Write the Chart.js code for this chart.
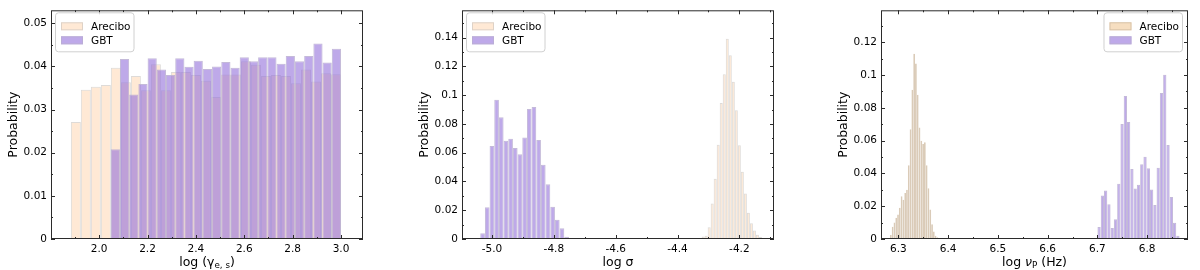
<!DOCTYPE html>
<html>
<head>
<meta charset="utf-8">
<script src="https://cdn.jsdelivr.net/npm/chart.js@4.4.1/dist/chart.umd.min.js"></script>
<style>
  html, body { margin: 0; padding: 0; background: #fff; }
  #figure { position: relative; width: 1200px; height: 270px; overflow: hidden; }
  #figure canvas { position: absolute; top: 0; }
</style>
</head>
<body>
<div id="figure">
  <canvas id="gamma-chart" width="364" height="270" style="left:1px"></canvas>
  <canvas id="sigma-chart" width="364" height="270" style="left:412px"></canvas>
  <canvas id="nu-chart" width="359" height="270" style="left:831px"></canvas>
</div>
<script>
/* data */
const SERIES_LABELS = ['Arecibo', 'GBT'];

// panel 1: log(gamma_e,s)
const GAMMA_ARECIBO_START = 1.883;
const GAMMA_ARECIBO_WIDTH = 0.04137;
const GAMMA_ARECIBO = [0.0271, 0.0346, 0.0353, 0.0357, 0.0397, 0.0363, 0.0378, 0.0345, 0.0405, 0.0345,
  0.0387, 0.0387, 0.0380, 0.0367, 0.0329, 0.0381, 0.0381, 0.0412, 0.0404, 0.0378,
  0.0380, 0.0378, 0.0361, 0.0393, 0.0365, 0.0384, 0.0382];
const GAMMA_GBT_START = 2.048;
const GAMMA_GBT_WIDTH = 0.03808;
const GAMMA_GBT = [0.0208, 0.0417, 0.0335, 0.0359, 0.0419, 0.0393, 0.0380, 0.0419, 0.0399, 0.0413,
  0.0394, 0.0400, 0.0410, 0.0397, 0.0421, 0.0412, 0.0421, 0.0421, 0.0406, 0.0424,
  0.0412, 0.0424, 0.0453, 0.0409, 0.0441];
const GAMMA_X_TICKS = [2.0, 2.2, 2.4, 2.6, 2.8, 3.0];
const GAMMA_Y_TICKS = [0, 0.01, 0.02, 0.03, 0.04, 0.05];

// panel 2: log(sigma)
const SIGMA_ARECIBO_START = -4.322;
const SIGMA_ARECIBO_WIDTH = 0.00975;
const SIGMA_ARECIBO = [0.0018, 0.0023, 0.0082, 0.0246, 0.0419, 0.0656, 0.0945, 0.1145, 0.1393, 0.1277,
  0.1093, 0.0895, 0.0651, 0.0467, 0.0316, 0.0182, 0.0109, 0.0059, 0.0030, 0.0014];
const SIGMA_GBT_START = -5.038;
const SIGMA_GBT_WIDTH = 0.0151;
const SIGMA_GBT = [0.0040, 0.0220, 0.0647, 0.0968, 0.0847, 0.0683, 0.0697, 0.0633, 0.0590, 0.0705,
  0.0903, 0.0918, 0.0688, 0.0516, 0.0380, 0.0225, 0.0134, 0.0075, 0.0015];
const SIGMA_X_TICKS = [-5.0, -4.8, -4.6, -4.4, -4.2];
const SIGMA_Y_TICKS = [0, 0.02, 0.04, 0.06, 0.08, 0.1, 0.12, 0.14];

// panel 3: log(nu_P)
const NU_ARECIBO_START = 6.283;
const NU_ARECIBO_WIDTH = 0.0036;
const NU_ARECIBO = [0.0025, 0.0075, 0.010, 0.013, 0.015, 0.019, 0.026, 0.024, 0.028, 0.030,
  0.045, 0.067, 0.091, 0.113, 0.107, 0.088, 0.068, 0.060, 0.058, 0.059,
  0.045, 0.031, 0.018, 0.009, 0.0045, 0.002, 0.001];
const NU_GBT_START = 6.700;
const NU_GBT_WIDTH = 0.0066;
const NU_GBT = [0.0073, 0.0266, 0.0296, 0.0212, 0.0067, 0.0121, 0.0337, 0.0702, 0.0873, 0.0714,
  0.0427, 0.0308, 0.0331, 0.0456, 0.0502, 0.0431, 0.0302, 0.0208, 0.0435, 0.0891,
  0.1002, 0.0573, 0.0256, 0.0099, 0.0020];
const NU_X_TICKS = [6.3, 6.4, 6.5, 6.6, 6.7, 6.8];
const NU_Y_TICKS = [0, 0.02, 0.04, 0.06, 0.08, 0.1, 0.12];

/* styles */
const FONT_FAMILY = '"DejaVu Sans", sans-serif';
const TEXT_COLOR = '#000000';
const AXIS_COLOR = '#2b2b2b';
const GBT_COLOR = 'rgba(147, 112, 219, 0.6)';
const GBT_EDGE = 'rgba(186, 174, 210, 0.85)';
const ARECIBO_COLOR = 'rgba(255, 218, 185, 0.6)';
const ARECIBO_EDGE = 'rgba(200, 195, 190, 0.6)';
const ARECIBO_COLOR_NU = 'rgba(240, 200, 150, 0.6)';
const ARECIBO_EDGE_NU = 'rgba(205, 185, 160, 0.75)';

/* utilities */
const toHistogramPoints = (start, width, values) => {
  return values.map((value, i) => ({ x: start + (i + 0.5) * width, y: value }));
};

const formatNumber = (value) => String(Number(value.toFixed(4)));

const minorValues = (ticks, min, max) => {
  const step = ticks[1] - ticks[0];
  const result = [];
  for (let v = ticks[0] - step / 2; v < max; v += step) {
    if (v > min) {
      result.push(v);
    }
  }
  return result;
};

/* plugins */
const axesFrame = {
  id: 'axesFrame',
  afterDatasetsDraw(chart) {
    const { ctx, chartArea, scales } = chart;
    const { left, right, top, bottom } = chartArea;
    ctx.save();
    ctx.strokeStyle = AXIS_COLOR;
    ctx.lineWidth = 1;

    const drawX = (value, length) => {
      const px = Math.round(scales.x.getPixelForValue(value)) + 0.5;
      ctx.beginPath();
      ctx.moveTo(px, bottom);
      ctx.lineTo(px, bottom - length);
      ctx.moveTo(px, top);
      ctx.lineTo(px, top + length);
      ctx.stroke();
    };
    const drawY = (value, length) => {
      const py = Math.round(scales.y.getPixelForValue(value)) + 0.5;
      ctx.beginPath();
      ctx.moveTo(left, py);
      ctx.lineTo(left + length, py);
      ctx.moveTo(right, py);
      ctx.lineTo(right - length, py);
      ctx.stroke();
    };

    const xTicks = scales.x.ticks.map((t) => t.value);
    const yTicks = scales.y.ticks.map((t) => t.value);
    xTicks.forEach((v) => drawX(v, 4));
    minorValues(xTicks, scales.x.min, scales.x.max).forEach((v) => drawX(v, 2));
    yTicks.forEach((v) => drawY(v, 4));
    minorValues(yTicks, scales.y.min, scales.y.max).forEach((v) => drawY(v, 2));

    ctx.strokeRect(left + 0.5, top + 0.5, right - left - 1, bottom - top - 1);
    ctx.restore();
  },
};

const histogramLegend = {
  id: 'histogramLegend',
  afterDraw(chart, args, options) {
    const { ctx, chartArea } = chart;
    const datasets = chart.data.datasets;
    ctx.save();
    ctx.font = '10.5px ' + FONT_FAMILY;
    const textWidth = Math.max(...datasets.map((d) => ctx.measureText(d.label).width));
    const width = 35 + textWidth + 4;
    const height = 39;
    const left = options.side === 'right' ? chartArea.right - 6 - width : chartArea.left + 4;
    const top = chartArea.top + 2;

    ctx.beginPath();
    ctx.roundRect(left + 0.5, top + 0.5, width, height, 3);
    ctx.fillStyle = 'rgba(255, 255, 255, 0.8)';
    ctx.fill();
    ctx.strokeStyle = '#d0d0d0';
    ctx.lineWidth = 1;
    ctx.stroke();

    datasets.forEach((dataset, i) => {
      const y = top + 14 + i * 14;
      ctx.fillStyle = dataset.backgroundColor;
      ctx.fillRect(left + 6, y - 4, 22, 8);
      ctx.strokeStyle = dataset.borderColor;
      ctx.strokeRect(left + 6.5, y - 3.5, 21, 7);
      ctx.fillStyle = TEXT_COLOR;
      ctx.textAlign = 'left';
      ctx.textBaseline = 'middle';
      ctx.fillText(dataset.label, left + 36, y + 0.5);
    });
    ctx.restore();
  },
};

const subscriptTitle = {
  id: 'subscriptTitle',
  afterDraw(chart, args, options) {
    const { ctx, chartArea } = chart;
    const size = 12.5;
    const fontFor = (part) => {
      const px = part.sub ? size * 0.7 : size;
      return (part.italic ? 'italic ' : '') + px + 'px ' + FONT_FAMILY;
    };
    ctx.save();
    let total = 0;
    const widths = options.parts.map((part) => {
      ctx.font = fontFor(part);
      const w = ctx.measureText(part.text).width;
      total += w;
      return w;
    });
    let x = (chartArea.left + chartArea.right) / 2 - total / 2;
    const baseline = chartArea.bottom + 26.5;
    ctx.fillStyle = TEXT_COLOR;
    ctx.textAlign = 'left';
    ctx.textBaseline = 'alphabetic';
    options.parts.forEach((part, i) => {
      ctx.font = fontFor(part);
      ctx.fillText(part.text, x, part.sub ? baseline + 2.5 : baseline);
      x += widths[i];
    });
    ctx.restore();
  },
};

/* chart */
const createHistogramChart = (selector, panel) => {
  const element = document.querySelector(selector);
  const tickFont = { family: FONT_FAMILY, size: 10.5 };

  return new Chart(element, {
    type: 'bar',
    data: {
      datasets: [
        {
          label: SERIES_LABELS[0],
          data: panel.arecibo,
          backgroundColor: panel.areciboColor,
          borderColor: panel.areciboEdge,
          stack: 'hist',
          order: 1,
        },
        {
          label: SERIES_LABELS[1],
          data: panel.gbt,
          backgroundColor: GBT_COLOR,
          borderColor: GBT_EDGE,
          stack: 'hist',
          order: 0,
        },
      ],
    },
    options: {
      responsive: false,
      animation: false,
      layout: { padding: { top: 5, right: 2, left: 0, bottom: 0 } },
      datasets: {
        bar: {
          barThickness: 'flex',
          categoryPercentage: 1,
          barPercentage: 1,
          borderWidth: 1,
          borderSkipped: false,
          inflateAmount: 0,
        },
      },
      scales: {
        x: {
          type: 'linear',
          min: panel.xMin,
          max: panel.xMax,
          offset: false,
          grid: { display: false, drawTicks: false, offset: false },
          border: { display: false },
          afterBuildTicks: (scale) => {
            scale.ticks = panel.xTicks.map((value) => ({ value }));
          },
          afterFit: (scale) => {
            scale.height = 31;
          },
          ticks: {
            padding: 4,
            maxRotation: 0,
            autoSkip: false,
            color: TEXT_COLOR,
            font: tickFont,
            callback: (value) => value.toFixed(1),
          },
        },
        y: {
          type: 'linear',
          min: 0,
          max: panel.yMax,
          stacked: false,
          grid: { display: false, drawTicks: false },
          border: { display: false },
          afterBuildTicks: (scale) => {
            scale.ticks = panel.yTicks.map((value) => ({ value }));
          },
          afterFit: (scale) => {
            scale.width = 50;
          },
          ticks: {
            padding: 4,
            autoSkip: false,
            color: TEXT_COLOR,
            font: tickFont,
            callback: (value) => formatNumber(value),
          },
          title: {
            display: true,
            text: 'Probability',
            color: TEXT_COLOR,
            font: { family: FONT_FAMILY, size: 12.5 },
            padding: { top: 5, bottom: 0 },
          },
        },
      },
      plugins: {
        legend: { display: false },
        tooltip: { enabled: false },
        histogramLegend: { side: panel.legendSide },
        subscriptTitle: { parts: panel.title },
      },
    },
    plugins: [axesFrame, histogramLegend, subscriptTitle],
  });
};

document.addEventListener('DOMContentLoaded', () => {
  createHistogramChart('#gamma-chart', {
    arecibo: toHistogramPoints(GAMMA_ARECIBO_START, GAMMA_ARECIBO_WIDTH, GAMMA_ARECIBO),
    gbt: toHistogramPoints(GAMMA_GBT_START, GAMMA_GBT_WIDTH, GAMMA_GBT),
    areciboColor: ARECIBO_COLOR,
    areciboEdge: ARECIBO_EDGE,
    xMin: 1.801,
    xMax: 3.091,
    yMax: 0.053,
    xTicks: GAMMA_X_TICKS,
    yTicks: GAMMA_Y_TICKS,
    legendSide: 'left',
    title: [{ text: 'log (γ' }, { text: 'e, s', sub: true }, { text: ')' }],
  });

  createHistogramChart('#sigma-chart', {
    arecibo: toHistogramPoints(SIGMA_ARECIBO_START, SIGMA_ARECIBO_WIDTH, SIGMA_ARECIBO),
    gbt: toHistogramPoints(SIGMA_GBT_START, SIGMA_GBT_WIDTH, SIGMA_GBT),
    areciboColor: ARECIBO_COLOR,
    areciboEdge: ARECIBO_EDGE,
    xMin: -5.097,
    xMax: -4.088,
    yMax: 0.159,
    xTicks: SIGMA_X_TICKS,
    yTicks: SIGMA_Y_TICKS,
    legendSide: 'left',
    title: [{ text: 'log σ' }],
  });

  createHistogramChart('#nu-chart', {
    arecibo: toHistogramPoints(NU_ARECIBO_START, NU_ARECIBO_WIDTH, NU_ARECIBO),
    gbt: toHistogramPoints(NU_GBT_START, NU_GBT_WIDTH, NU_GBT),
    areciboColor: ARECIBO_COLOR_NU,
    areciboEdge: ARECIBO_EDGE_NU,
    xMin: 6.265,
    xMax: 6.882,
    yMax: 0.1395,
    xTicks: NU_X_TICKS,
    yTicks: NU_Y_TICKS,
    legendSide: 'right',
    title: [{ text: 'log ' }, { text: 'ν', italic: true }, { text: 'P', sub: true }, { text: ' (Hz)' }],
  });
});
</script>
</body>
</html>
